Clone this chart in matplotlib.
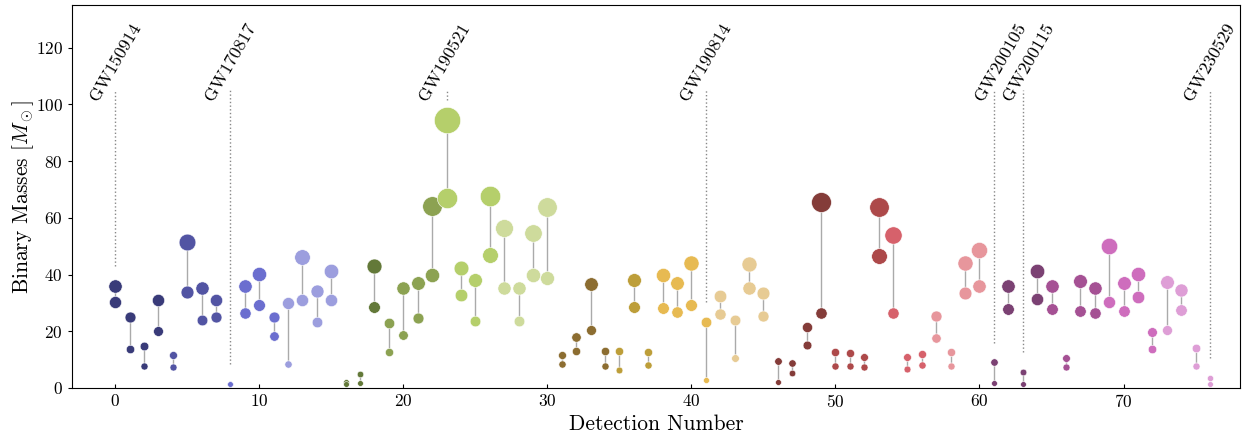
import numpy as np
import matplotlib
matplotlib.use("Agg")
import matplotlib.pyplot as plt

plt.rcParams['font.family'] = 'serif'
plt.rcParams['font.serif'] = ['cmr10', 'DejaVu Serif']
plt.rcParams['mathtext.fontset'] = 'cm'
plt.rcParams['axes.unicode_minus'] = False
plt.rcParams['axes.formatter.use_mathtext'] = True

m1 = [35.9, 24.9, 14.7, 31.1, 11.6, 51.4, 35.4, 31.1, 1.5, 35.9,
      40.1, 24.9, 30.0, 46.1, 34.3, 41.2, 2.0, 5.0, 43.1, 23.0,
      35.4, 37.1, 64.2, 94.4, 42.4, 38.0, 67.8, 56.3, 35.2, 54.6,
      63.8, 11.6, 18.0, 36.7, 13.1, 12.9, 37.9, 12.6, 40.0, 36.9,
      44.0, 23.3, 32.4, 23.9, 43.7, 33.6, 9.5, 8.8, 21.6, 65.4,
      12.8, 12.5, 11.0, 63.8, 53.9, 11.0, 12.1, 25.2, 12.6, 44.1,
      48.8, 9.0, 36.0, 5.7, 41.2, 35.8, 10.6, 37.7, 35.4, 50.1,
      37.1, 40.3, 19.6, 37.3, 34.6, 14.2, 3.6]
m2 = [30.4, 13.6, 7.6, 20.1, 7.4, 33.8, 23.9, 25.0, 1.3, 26.4,
      29.1, 18.3, 8.6, 30.9, 23.4, 31.1, 1.4, 1.6, 28.4, 12.8,
      18.7, 24.8, 40.0, 67.0, 32.6, 23.7, 46.7, 35.2, 23.7, 40.0,
      38.7, 8.3, 13.0, 20.4, 7.9, 6.2, 28.6, 8.1, 28.2, 26.8,
      29.1, 2.7, 26.1, 10.4, 35.1, 25.3, 2.1, 5.3, 15.3, 26.6,
      7.9, 7.7, 7.5, 46.5, 26.3, 6.7, 8.2, 17.7, 7.7, 33.5,
      35.9, 1.9, 27.9, 1.5, 31.2, 27.7, 7.3, 27.3, 26.6, 30.4,
      27.3, 32.0, 13.9, 20.5, 27.5, 7.7, 1.5]

event_names = ['GW150914', 'GW170817', 'GW190521', 'GW190814',
               'GW200105', 'GW200115', 'GW230529']
event_index = [0, 8, 23, 41, 61, 63, 76]
label_shift = [0, 0, -0.1, 0, 0.45, 0.4, 0]

x_ticks = [0, 10, 20, 30, 40, 50, 60, 70]
y_ticks = [0, 20, 40, 60, 80, 100, 120]

n = len(m1)
idx = np.arange(n)
cmap = plt.cm.tab20b

fig = plt.figure(figsize=(12.54, 4.38), dpi=100)
ax = fig.add_axes([0.0574, 0.1142, 0.9316, 0.8744])

def msize(m):
    return 3.9 + m / 6.3

for i in range(n):
    c = cmap(i / (n - 1))
    ax.plot([idx[i], idx[i]], [m2[i], m1[i]], color='#aaaaaa', lw=1.0, zorder=1)
    for m in (m1[i], m2[i]):
        ax.plot(idx[i], m, 'o', color=c, markersize=msize(m),
                markeredgecolor='white', markeredgewidth=0.4, zorder=2)

for name, j, dx in zip(event_names, event_index, label_shift):
    ax.plot([j, j], [m1[j] + 7, 105], color='#888888', ls=':', lw=1.0, zorder=0)
    ax.text(j + dx, 115, name, rotation=60, ha='center', va='center', fontsize=13)

ax.set_xlim(-3, 78.1)
ax.set_ylim(0, 135)
ax.set_xticks(x_ticks)
ax.set_yticks(y_ticks)
ax.tick_params(axis='x', labelsize=12.5, direction='in', length=3)
ax.tick_params(axis='y', labelsize=12.5, direction='out', length=3)
ax.set_xlabel('Detection Number', fontsize=15.5, labelpad=3)
ax.set_ylabel(r'Binary Masses $[M_\odot]$', fontsize=15.5, labelpad=0)

fig.savefig('out.png', dpi=100)
